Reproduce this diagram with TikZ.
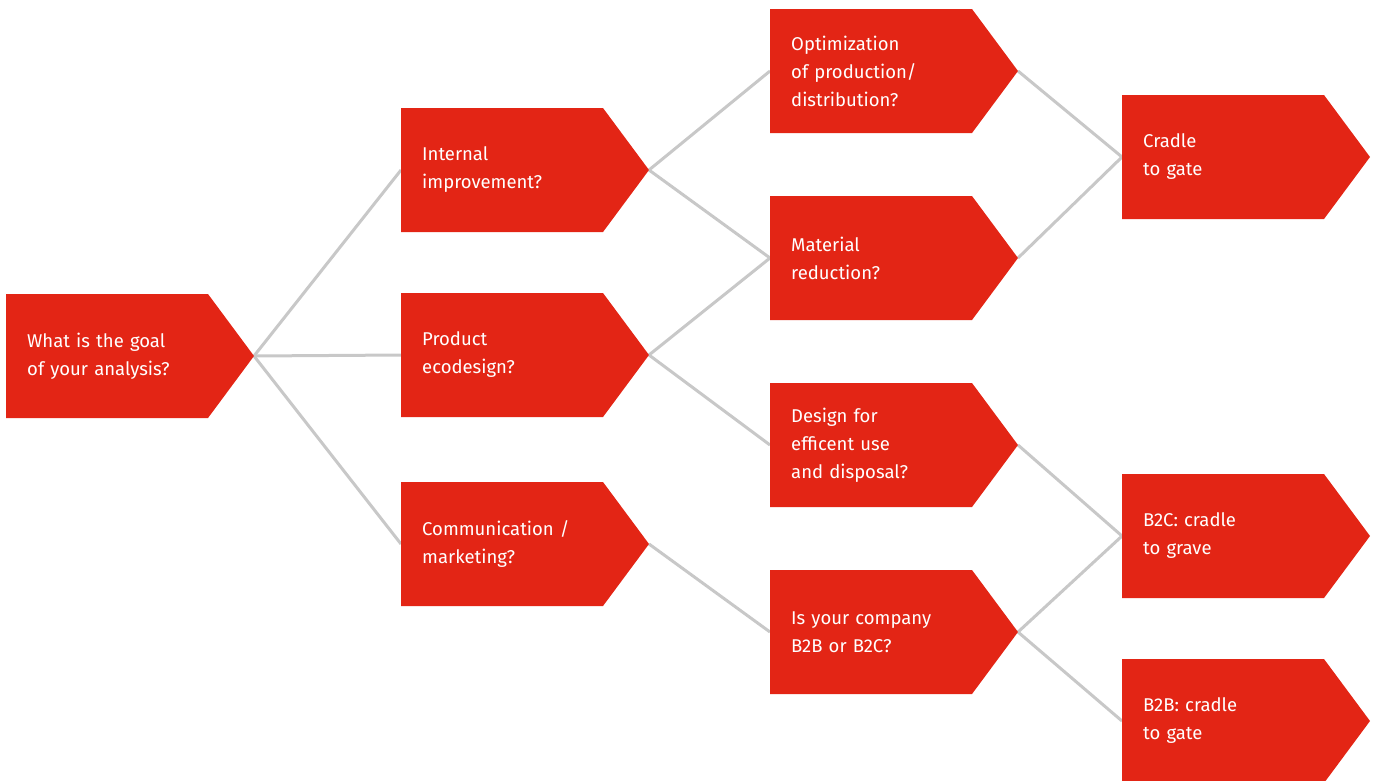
\documentclass[tikz,border=0pt]{standalone}
\usepackage{fontspec}
\setmainfont{Fira Sans}
\definecolor{boxred}{HTML}{E32515}
\definecolor{linegray}{HTML}{C8C8C8}
\pgfdeclarelayer{background}
\pgfsetlayers{background,main}
\tikzset{
  boxfill/.style={fill=boxred, draw=none},
  boxtext/.style={text=white, text width=181pt, inner sep=0pt, align=left, anchor=west,
    font=\fontsize{18.5pt}{28pt}\selectfont},
  link/.style={draw=linegray, line width=3pt}
}
\newcommand\pbox[4]{%
  \fill[boxfill] (#2,#3) -- ++(202,0) -- ++(46,62) -- ++(-46,62) -- ++(-202,0) -- cycle;
  \node[boxtext] (#1) at (#2+21,#3+62) {#4};
  \coordinate (#1-in) at (#2,#3+62);
  \coordinate (#1-out) at (#2+248,#3+62);
}
\begin{document}
\begin{tikzpicture}[x=1pt,y=-1pt]
\useasboundingbox (0,0) rectangle (1376,780);
\pbox{goal}{6}{294}{What is the goal\\of your analysis?}
\pbox{internal}{401}{108}{Internal\\improvement?}
\pbox{eco}{401}{293}{Product\\ecodesign?}
\pbox{comm}{401}{482}{Communication /\\marketing?}
\pbox{opt}{770}{9}{Optimization\\of production/\\distribution?}
\pbox{mat}{770}{196}{Material\\reduction?}
\pbox{design}{770}{383}{Design for\\efficent use\\and disposal?}
\pbox{company}{770}{570}{Is your company\\B2B or B2C?}
\pbox{cradle}{1122}{95}{Cradle\\to gate}
\pbox{btoc}{1122}{474}{B2C: cradle\\to grave}
\pbox{btob}{1122}{659}{B2B: cradle\\to gate}
\begin{pgfonlayer}{background}
\draw[link] (goal-out) -- (internal-in);
\draw[link] (goal-out) -- (eco-in);
\draw[link] (goal-out) -- (comm-in);
\draw[link] (internal-out) -- (opt-in);
\draw[link] (internal-out) -- (mat-in);
\draw[link] (eco-out) -- (mat-in);
\draw[link] (eco-out) -- (design-in);
\draw[link] (comm-out) -- (company-in);
\draw[link] (opt-out) -- (cradle-in);
\draw[link] (mat-out) -- (cradle-in);
\draw[link] (design-out) -- (btoc-in);
\draw[link] (company-out) -- (btoc-in);
\draw[link] (company-out) -- (btob-in);
\end{pgfonlayer}
\end{tikzpicture}
\end{document}
